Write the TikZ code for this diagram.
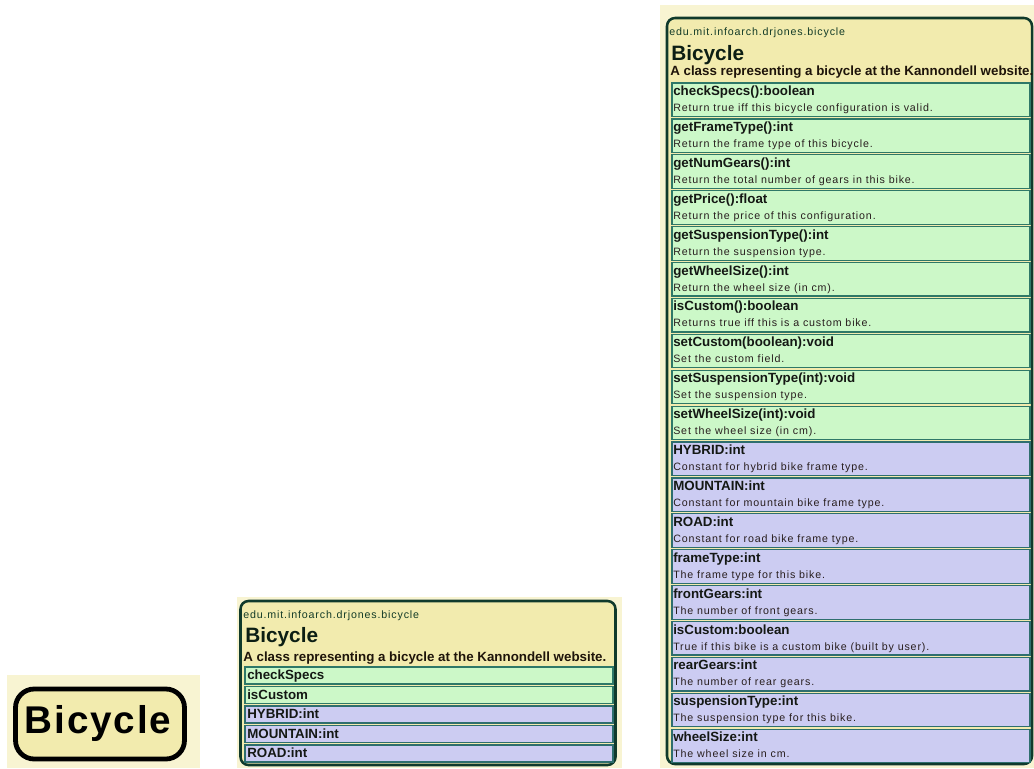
\documentclass[tikz,border=0pt]{standalone}
\usepackage{fontspec}
\setmainfont{Liberation Sans}
\newfontfamily\descfont[LetterSpace=8]{Liberation Sans}
\newfontfamily\iconfont[LetterSpace=5]{Liberation Sans}
\begin{document}
\begin{tikzpicture}[x=0.75pt,y=0.75pt,yscale=-1,xscale=1,
  panel/.style={draw=none,fill={rgb, 255:red, 248; green, 244; blue, 210 }},
  classbox/.style={draw={rgb, 255:red, 16; green, 58; blue, 44 },fill={rgb, 255:red, 242; green, 235; blue, 174 },line width=1.9pt,rounded corners=6pt},
  greenrow/.style={draw={rgb, 255:red, 46; green, 120; blue, 104 },fill={rgb, 255:red, 204; green, 248; blue, 200 },line width=0.9pt},
  bluerow/.style={draw={rgb, 255:red, 46; green, 110; blue, 110 },fill={rgb, 255:red, 204; green, 204; blue, 242 },line width=0.9pt},
  pkgtext/.style={anchor=base west,inner sep=0pt,text={rgb, 255:red, 20; green, 60; blue, 40 },font=\descfont\fontsize{8}{10}\selectfont},
  nametext/.style={anchor=base west,inner sep=0pt,text={rgb, 255:red, 12; green, 30; blue, 20 },font=\fontsize{15.6}{18}\selectfont\bfseries},
  captext/.style={anchor=base west,inner sep=0pt,text={rgb, 255:red, 30; green, 20; blue, 10 },font=\fontsize{10}{12}\selectfont\bfseries},
  rowtitle/.style={anchor=base west,inner sep=0pt,text={rgb, 255:red, 20; green, 24; blue, 20 },font=\fontsize{10}{12}\selectfont\bfseries},
  rowdesc/.style={anchor=base west,inner sep=0pt,text={rgb, 255:red, 40; green, 30; blue, 30 },font=\descfont\fontsize{8}{10}\selectfont}]
%set diagram to the full frame
\fill [white] (0,0) rectangle (1034,768);
\useasboundingbox (0,0) rectangle (1034,768);

%Shape: Rectangle [panels]
\fill [panel] (7,675) rectangle (200,768);
\fill [panel] (237,597) rectangle (622,768);
\fill [panel] (660,5) rectangle (1034,768);

%Shape: Rounded Rectangle [icon view]
\draw [draw={rgb, 255:red, 0; green, 0; blue, 0 },fill={rgb, 255:red, 242; green, 235; blue, 174 },line width=3.6pt,rounded corners=14pt] (15.5,689) rectangle (184.5,759);
% Text Node
\node [anchor=base,inner sep=0pt,font=\iconfont\fontsize{29}{32}\selectfont\bfseries] (iconName) at (98,733) {Bicycle};

%Shape: Rounded Rectangle [summary view]
\draw [classbox] (240.5,601) rectangle (615.5,765);
% Text Node
\node [pkgtext] (sumPkg) at (243,618.5) {edu.mit.infoarch.drjones.bicycle};
\node [nametext] (sumName) at (245,642.5) {Bicycle};
\node [captext] (sumCap) at (243,661.5) {A class representing a bicycle at the Kannondell website.};
%Shape: Rectangle [summary rows]
\draw [greenrow] (245,667) rectangle (613,684);
\draw [greenrow] (245,686.5) rectangle (613,703.5);
\draw [bluerow] (245,706) rectangle (613,723);
\draw [bluerow] (245,725.5) rectangle (613,742.5);
\draw [bluerow] (245,745) rectangle (613,762);
% Text Node
\node [rowtitle] (sumCheckSpecs) at (247,679.5) {checkSpecs};
\node [rowtitle] (sumIsCustom) at (247,699) {isCustom};
\node [rowtitle] (sumHybrid) at (247,718.5) {HYBRID:int};
\node [rowtitle] (sumMountain) at (247,738) {MOUNTAIN:int};
\node [rowtitle] (sumRoad) at (247,757.5) {ROAD:int};

%Shape: Rounded Rectangle [full view]
\draw [classbox] (667,18) rectangle (1032,764);
% Text Node
\node [pkgtext] (fullPkg) at (669,35.5) {edu.mit.infoarch.drjones.bicycle};
\node [nametext] (fullName) at (671,60) {Bicycle};
\node [captext] (fullCap) at (670,75.5) {A class representing a bicycle at the Kannondell website.};

%Shape: Rectangle [method rows]
\draw [greenrow] (672,83.0) rectangle (1030,116.5);
\draw [greenrow] (672,118.9) rectangle (1030,152.4);
\draw [greenrow] (672,154.8) rectangle (1030,188.3);
\draw [greenrow] (672,190.7) rectangle (1030,224.2);
\draw [greenrow] (672,226.6) rectangle (1030,260.1);
\draw [greenrow] (672,262.5) rectangle (1030,296.0);
\draw [greenrow] (672,298.4) rectangle (1030,331.9);
\draw [greenrow] (672,334.3) rectangle (1030,367.8);
\draw [greenrow] (672,370.2) rectangle (1030,403.7);
\draw [greenrow] (672,406.1) rectangle (1030,439.6);
%Shape: Rectangle [field rows]
\draw [bluerow] (672,442.0) rectangle (1030,475.5);
\draw [bluerow] (672,477.9) rectangle (1030,511.4);
\draw [bluerow] (672,513.8) rectangle (1030,547.3);
\draw [bluerow] (672,549.7) rectangle (1030,583.2);
\draw [bluerow] (672,585.6) rectangle (1030,619.1);
\draw [bluerow] (672,621.5) rectangle (1030,655.0);
\draw [bluerow] (672,657.4) rectangle (1030,690.9);
\draw [bluerow] (672,693.3) rectangle (1030,726.8);
\draw [bluerow] (672,729.2) rectangle (1030,762.7);

% Text Node
\node [rowtitle] (mCheckSpecs) at (673,95.5) {checkSpecs():boolean};
\node [rowdesc] (dCheckSpecs) at (673,111.5) {Return true iff this bicycle configuration is valid.};
% Text Node
\node [rowtitle] (mGetFrameType) at (673,131.4) {getFrameType():int};
\node [rowdesc] (dGetFrameType) at (673,147.4) {Return the frame type of this bicycle.};
% Text Node
\node [rowtitle] (mGetNumGears) at (673,167.3) {getNumGears():int};
\node [rowdesc] (dGetNumGears) at (673,183.3) {Return the total number of gears in this bike.};
% Text Node
\node [rowtitle] (mGetPrice) at (673,203.2) {getPrice():float};
\node [rowdesc] (dGetPrice) at (673,219.2) {Return the price of this configuration.};
% Text Node
\node [rowtitle] (mGetSuspension) at (673,239.1) {getSuspensionType():int};
\node [rowdesc] (dGetSuspension) at (673,255.1) {Return the suspension type.};
% Text Node
\node [rowtitle] (mGetWheelSize) at (673,275.0) {getWheelSize():int};
\node [rowdesc] (dGetWheelSize) at (673,291.0) {Return the wheel size (in cm).};
% Text Node
\node [rowtitle] (mIsCustom) at (673,310.9) {isCustom():boolean};
\node [rowdesc] (dIsCustom) at (673,326.9) {Returns true iff this is a custom bike.};
% Text Node
\node [rowtitle] (mSetCustom) at (673,346.8) {setCustom(boolean):void};
\node [rowdesc] (dSetCustom) at (673,362.8) {Set the custom field.};
% Text Node
\node [rowtitle] (mSetSuspension) at (673,382.7) {setSuspensionType(int):void};
\node [rowdesc] (dSetSuspension) at (673,398.7) {Set the suspension type.};
% Text Node
\node [rowtitle] (mSetWheelSize) at (673,418.6) {setWheelSize(int):void};
\node [rowdesc] (dSetWheelSize) at (673,434.6) {Set the wheel size (in cm).};
% Text Node
\node [rowtitle] (fHybrid) at (673,454.5) {HYBRID:int};
\node [rowdesc] (dHybrid) at (673,470.5) {Constant for hybrid bike frame type.};
% Text Node
\node [rowtitle] (fMountain) at (673,490.4) {MOUNTAIN:int};
\node [rowdesc] (dMountain) at (673,506.4) {Constant for mountain bike frame type.};
% Text Node
\node [rowtitle] (fRoad) at (673,526.3) {ROAD:int};
\node [rowdesc] (dRoad) at (673,542.3) {Constant for road bike frame type.};
% Text Node
\node [rowtitle] (fFrameType) at (673,562.2) {frameType:int};
\node [rowdesc] (dFrameType) at (673,578.2) {The frame type for this bike.};
% Text Node
\node [rowtitle] (fFrontGears) at (673,598.1) {frontGears:int};
\node [rowdesc] (dFrontGears) at (673,614.1) {The number of front gears.};
% Text Node
\node [rowtitle] (fIsCustom) at (673,634.0) {isCustom:boolean};
\node [rowdesc] (dIsCustomF) at (673,650.0) {True if this bike is a custom bike (built by user).};
% Text Node
\node [rowtitle] (fRearGears) at (673,669.9) {rearGears:int};
\node [rowdesc] (dRearGears) at (673,685.9) {The number of rear gears.};
% Text Node
\node [rowtitle] (fSuspension) at (673,705.8) {suspensionType:int};
\node [rowdesc] (dSuspension) at (673,721.8) {The suspension type for this bike.};
% Text Node
\node [rowtitle] (fWheelSize) at (673,741.7) {wheelSize:int};
\node [rowdesc] (dWheelSize) at (673,757.7) {The wheel size in cm.};

\end{tikzpicture}
\end{document}
